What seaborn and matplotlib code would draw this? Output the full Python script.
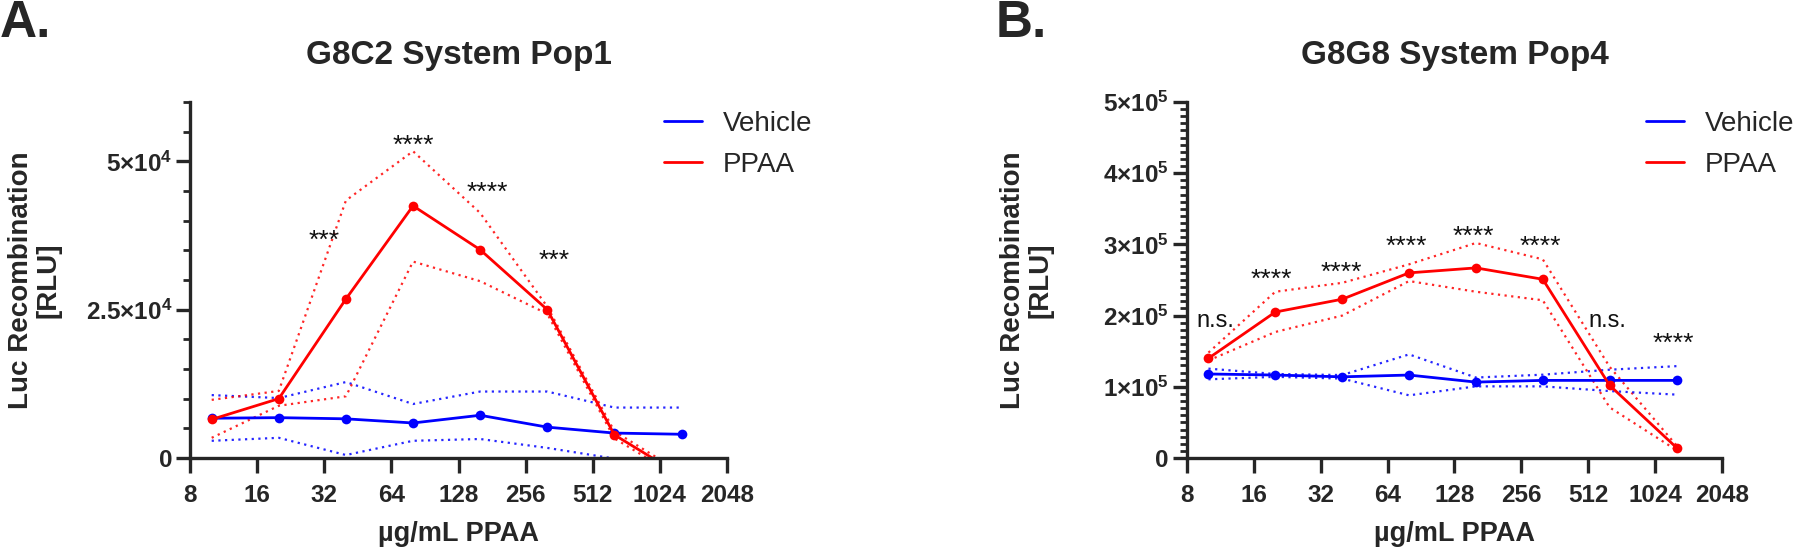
import numpy as np
import pandas as pd
import seaborn as sns
import matplotlib.pyplot as plt
from matplotlib.lines import Line2D
from matplotlib.ticker import MultipleLocator, FixedLocator, NullLocator

# concentrations (ug/mL PPAA)
conc = [10, 20, 40, 80, 160, 320, 640, 1280]
xticks = [8, 16, 32, 64, 128, 256, 512, 1024, 2048]

# panel A: G8C2 System Pop1 (mean, mean+SD, mean-SD)
veh_a = [6700, 6800, 6600, 5900, 7200, 5200, 4200, 4000]
veh_a_hi = [10600, 10100, 12800, 9100, 11200, 11200, 8500, 8500]
veh_a_lo = [2900, 3400, 500, 2900, 3200, 1700, -100, -500]
ppaa_a = [6500, 10000, 26800, 42500, 35100, 25000, 3900, -3000]
ppaa_a_hi = [9800, 11300, 43400, 51700, 41300, 25500, 4500, -2500]
ppaa_a_lo = [3400, 8800, 10400, 33100, 29800, 24300, 3300, -3500]
ticks_a = [0, 25000, 50000]
stars_a_x = [32, 80, 173, 343]
stars_a_y = [37700, 53800, 45800, 34400]
stars_a = ["***", "****", "****", "***"]

# panel B: G8G8 System Pop4
veh_b = [118000, 116500, 114000, 116500, 106600, 109000, 109000, 109000]
veh_b_hi = [125500, 118000, 116500, 145500, 113000, 117000, 124000, 129000]
veh_b_lo = [110500, 114000, 111500, 88000, 100600, 100600, 94000, 89000]
ppaa_b = [140000, 205000, 223000, 260000, 267000, 251000, 102000, 14500]
ppaa_b_hi = [148000, 233500, 246000, 272000, 302000, 279000, 128000, 17500]
ppaa_b_lo = [137000, 177000, 200000, 248500, 233500, 221500, 71000, 11000]
ticks_b = [0, 100000, 200000, 300000, 400000, 500000]
stars_b_x = [10.7, 19.2, 39.7, 77.8, 156, 311, 622, 1244]
stars_b_y = [193000, 260000, 270000, 306000, 321000, 306000, 192000, 170000]
stars_b = ["n.s.", "****", "****", "****", "****", "****", "n.s.", "****"]

BLUE = "#0000ff"
RED = "#ff0000"

sns.set_theme(style="ticks")
plt.rcParams["font.family"] = ["Liberation Sans", "DejaVu Sans"]
plt.rcParams["mathtext.fontset"] = "custom"
plt.rcParams["mathtext.rm"] = "Liberation Sans"
plt.rcParams["mathtext.bf"] = "Liberation Sans:bold"


def make_df(veh, veh_hi, veh_lo, ppaa, ppaa_hi, ppaa_lo):
    rows = []
    for grp, m, hi, lo in [("Vehicle", veh, veh_hi, veh_lo),
                           ("PPAA", ppaa, ppaa_hi, ppaa_lo)]:
        for c, a, b, d in zip(conc, m, hi, lo):
            rows.append({"conc": c, "group": grp, "mean": a, "hi": b, "lo": d})
    return pd.DataFrame(rows)


def draw_panel(ax, df, title, ymax, ticks, minor, ylabels, sx, sy, st,
               ylab_x, leg_x):
    pal = {"Vehicle": BLUE, "PPAA": RED}
    for bound in ["hi", "lo"]:
        for grp in ["Vehicle", "PPAA"]:
            sub = df[df["group"] == grp]
            sns.lineplot(data=sub, x="conc", y=bound, color=pal[grp], ax=ax,
                         linestyle=(0, (1, 2)), linewidth=1.6, alpha=0.85,
                         legend=False)
    sns.lineplot(data=df, x="conc", y="mean", hue="group", palette=pal, ax=ax,
                 marker="o", markersize=7, markeredgewidth=0, linewidth=2,
                 legend=False)

    ax.set_xscale("log", base=2)
    ax.set_xlim(8, 2048)
    ax.set_ylim(0, ymax)
    ax.xaxis.set_major_locator(FixedLocator(xticks))
    ax.xaxis.set_minor_locator(NullLocator())
    ax.set_xticklabels([str(t) for t in xticks])
    ax.yaxis.set_major_locator(FixedLocator(ticks))
    ax.yaxis.set_minor_locator(MultipleLocator(minor))
    ax.set_yticklabels(ylabels)

    for lab in ax.get_xticklabels() + ax.get_yticklabels():
        lab.set_fontweight("bold")
        lab.set_fontsize(17.5)

    for s in ["top", "right"]:
        ax.spines[s].set_visible(False)
    for s in ["left", "bottom"]:
        ax.spines[s].set_linewidth(2.4)
    ax.tick_params(axis="x", which="major", length=11, width=2.4, pad=7.5)
    ax.tick_params(axis="y", which="major", length=10, width=2.4, pad=3)
    ax.tick_params(axis="y", which="minor", length=5, width=2.0)

    ax.set_title(title, fontsize=24, fontweight="bold", pad=27)
    ax.set_xlabel("µg/mL PPAA", fontsize=19.5, fontweight="bold", labelpad=10)
    ax.set_ylabel("Luc Recombination\n[RLU]", fontsize=20, fontweight="bold",
                  linespacing=1.05)
    ax.yaxis.set_label_coords(ylab_x, 0.5)

    for x, y, t in zip(sx, sy, st):
        if t.startswith("*"):
            ax.annotate(t, (x, y), xytext=(0, -5), textcoords="offset points",
                        ha="center", va="center", fontsize=19, color="#111111")
        else:
            ax.text(x, y, t, ha="center", va="center", fontsize=17,
                    color="#111111")

    handles = [Line2D([], [], color=BLUE, lw=2), Line2D([], [], color=RED, lw=2)]
    ax.legend(handles, ["Vehicle", "PPAA"], loc="upper left",
              bbox_to_anchor=(leg_x, 0.976), frameon=False, fontsize=20,
              handlelength=1.37, handletextpad=0.75, labelspacing=0.54,
              borderpad=0, borderaxespad=0)


fig = plt.figure(figsize=(18, 5.54), dpi=100)
ax_a = fig.add_axes([0.1056, 0.1733, 0.2983, 0.6426])
ax_b = fig.add_axes([0.6594, 0.1733, 0.2972, 0.6426])

df_a = make_df(veh_a, veh_a_hi, veh_a_lo, ppaa_a, ppaa_a_hi, ppaa_a_lo)
df_b = make_df(veh_b, veh_b_hi, veh_b_lo, ppaa_b, ppaa_b_hi, ppaa_b_lo)

ylab_a = ["0", r"$\mathbf{2.5{\times}10^{4}}$", r"$\mathbf{5{\times}10^{4}}$"]
ylab_b = ["0"] + [r"$\mathbf{%d{\times}10^{5}}$" % i for i in range(1, 6)]

draw_panel(ax_a, df_a, "G8C2 System Pop1", 60000, ticks_a, 5000, ylab_a,
           stars_a_x, stars_a_y, stars_a, -0.24, 0.883)
draw_panel(ax_b, df_b, "G8G8 System Pop4", 500000, ticks_b, 10000, ylab_b,
           stars_b_x, stars_b_y, stars_b, -0.25, 0.858)

fig.text(0.0, 0.933, "A.", fontsize=37, fontweight="bold", ha="left",
         va="baseline")
fig.text(0.553, 0.933, "B.", fontsize=37, fontweight="bold", ha="left",
         va="baseline")

fig.savefig("out.png", dpi=100)
